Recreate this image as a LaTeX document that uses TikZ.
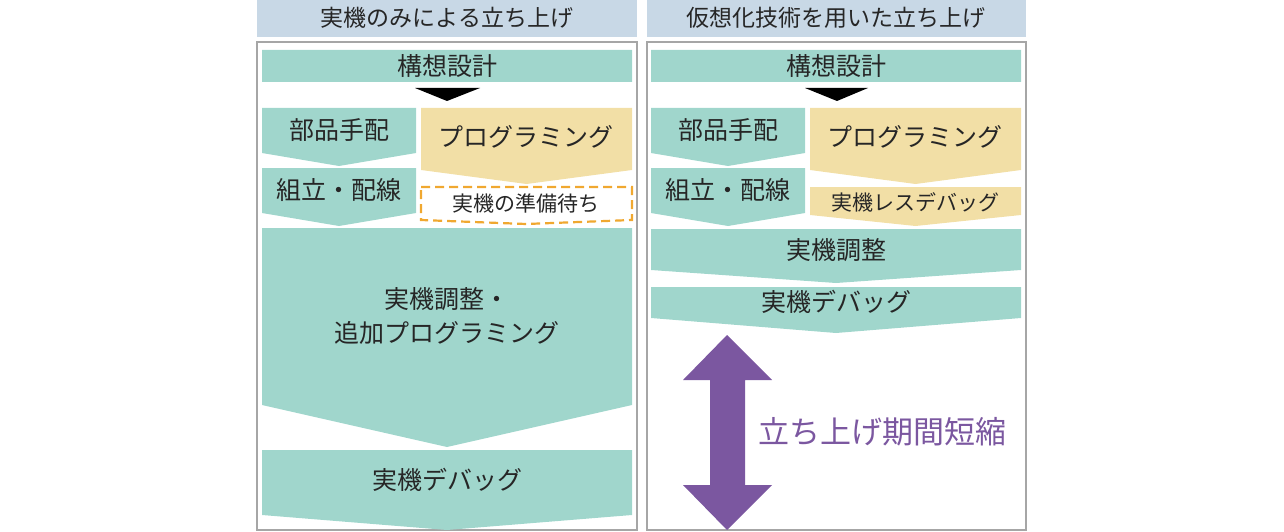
\documentclass[tikz,border=0pt]{standalone}
\usepackage{fontspec}
\setmainfont{Noto Sans CJK JP}
\definecolor{teal1}{HTML}{A0D6CC}
\definecolor{yel1}{HTML}{F2DFA6}
\definecolor{pur1}{HTML}{7B57A0}
\definecolor{org1}{HTML}{F0A830}
\definecolor{hdr1}{HTML}{C8D8E6}
\newcommand{\chev}[7]{% x1 y1 x2 y2 apex color name
  \fill[#6] (#1,#2) -- (#3,#2) -- (#3,#4) -- ({(#1+#3)/2},#5) -- (#1,#4) -- cycle;
  \coordinate (#7) at ({(#1+#3)/2},{(#2+#4)/2});}
\begin{document}
\begin{tikzpicture}[x=1pt,y=-1pt,
  lab/.style={font=\fontsize{25}{34}\selectfont,text=black!85},
  slab/.style={font=\fontsize{21}{24}\selectfont,text=black!85}]
\useasboundingbox (0,0) rectangle (1284,532);
% headers
\fill[hdr1] (257,0) rectangle (637,37);
\fill[hdr1] (647,0) rectangle (1026,37);
\node[font=\fontsize{23}{26}\selectfont,text=black!85] (h1) at (447,18) {実機のみによる立ち上げ};
\node[font=\fontsize{23}{26}\selectfont,text=black!85] (h2) at (836,18) {仮想化技術を用いた立ち上げ};
\draw[black!35,line width=1.2] (257,42) rectangle (637,530);
\draw[black!35,line width=1.2] (647,42) rectangle (1026,530);
% left
\chev{262}{50}{632}{82}{82}{teal1}{a1}
\node[lab] (la1) at (447,66) {構想設計};
\fill[black] (415,88) -- (480,88) -- (447,101) -- cycle;
\chev{262}{108}{416}{153}{166}{teal1}{a2}
\node[lab] (la2) at (a2) {部品手配};
\chev{421}{108}{632}{170}{184}{yel1}{a3}
\node[lab] (la3) at (526,137) {プログラミング};
\chev{262}{168}{416}{213}{226}{teal1}{a4}
\node[lab] (la4) at (a4) {組立・配線};
\draw[org1,line width=2.2,dash pattern=on 9pt off 5pt] (421,187) -- (632,187) -- (632,220) -- (526,224) -- (421,220) -- cycle;
\node[slab] (la5) at (526,203) {実機の準備待ち};
\chev{262}{228}{632}{405}{447}{teal1}{a6}
\node[lab,align=center] (la6) at (447,316) {実機調整・\\追加プログラミング};
\chev{262}{450}{632}{515}{530}{teal1}{a7}
\node[lab] (la7) at (447,480) {実機デバッグ};
% right
\chev{651}{50}{1021}{82}{82}{teal1}{b1}
\node[lab] (lb1) at (836,66) {構想設計};
\fill[black] (805,88) -- (868,88) -- (837,101) -- cycle;
\chev{651}{108}{805}{153}{166}{teal1}{b2}
\node[lab] (lb2) at (b2) {部品手配};
\chev{810}{108}{1021}{170}{184}{yel1}{b3}
\node[lab] (lb3) at (915,137) {プログラミング};
\chev{651}{168}{805}{213}{226}{teal1}{b4}
\node[lab] (lb4) at (b4) {組立・配線};
\chev{810}{187}{1021}{215}{226}{yel1}{b5}
\node[slab] (lb5) at (915,202) {実機レスデバッグ};
\chev{651}{229}{1021}{270}{283}{teal1}{b6}
\node[lab] (lb6) at (836,250) {実機調整};
\chev{651}{287}{1021}{318}{333}{teal1}{b7}
\node[lab] (lb7) at (836,302) {実機デバッグ};
\fill[pur1] (727,335) -- (772,380) -- (745,380) -- (745,485) -- (772,485) -- (727,530) -- (683,485) -- (710,485) -- (710,380) -- (683,380) -- cycle;
\node[font=\fontsize{31}{36}\selectfont,text=pur1] (sh) at (882,432) {立ち上げ期間短縮};
\end{tikzpicture}
\end{document}
